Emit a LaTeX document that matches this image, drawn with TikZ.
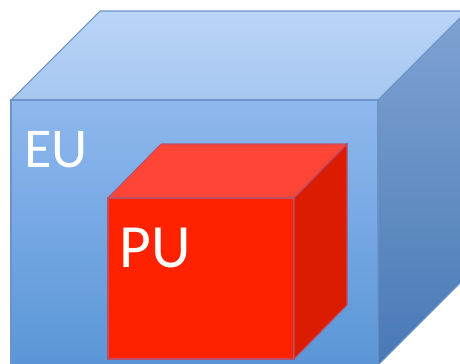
\documentclass[tikz,border=0pt]{standalone}
\usepackage{fontspec}
\setmainfont{Carlito}
\definecolor{eutopA}{HTML}{B9D4F8}
\definecolor{eutopB}{HTML}{A7C7F0}
\definecolor{eufrontA}{HTML}{8FB8EE}
\definecolor{eufrontB}{HTML}{5A96D6}
\definecolor{eusideA}{HTML}{7FA3D2}
\definecolor{eusideB}{HTML}{4879B6}
\definecolor{euedge}{HTML}{6E93C6}
\definecolor{pufront}{HTML}{FF2200}
\definecolor{putop}{HTML}{FF4536}
\definecolor{puside}{HTML}{DC1C00}
\definecolor{puedge}{HTML}{B8506E}
\tikzstyle{euface} = [draw=euedge, line width=0.6pt]
\tikzstyle{puface} = [draw=puedge, line width=0.6pt]
\tikzstyle{unitlabel} = [text=white, anchor=base west, inner sep=0pt]

\begin{document}
\begin{tikzpicture}[x=0.02cm, y=-0.02cm]
	\useasboundingbox (0,0) rectangle (460,363);
	\clip (0,0) rectangle (460,363);
	% Outer cube
	\shade [euface, top color=eutopA, bottom color=eutopB] (11,100) -- (100,11) -- (467,11) -- (378,100) -- cycle;
	\shade [euface, top color=eufrontA, bottom color=eufrontB] (11,100) rectangle (378,365);
	\shade [euface, top color=eusideA, bottom color=eusideB] (378,100) -- (467,11) -- (467,276) -- (378,365) -- cycle;
	% Inner cube
	\fill [puface, fill=putop] (108,198) -- (161,144) -- (347,144) -- (294,198) -- cycle;
	\fill [puface, fill=pufront] (108,198) rectangle (294,359);
	\fill [puface, fill=puside] (294,198) -- (347,144) -- (347,305) -- (294,359) -- cycle;
	% Place labels
	\node [unitlabel, font=\fontsize{32}{32}\selectfont] (EU) at (24,167) {EU};
	\node [unitlabel, font=\fontsize{35}{35}\selectfont] (PU) at (119,267) {PU};
\end{tikzpicture}
\end{document}
